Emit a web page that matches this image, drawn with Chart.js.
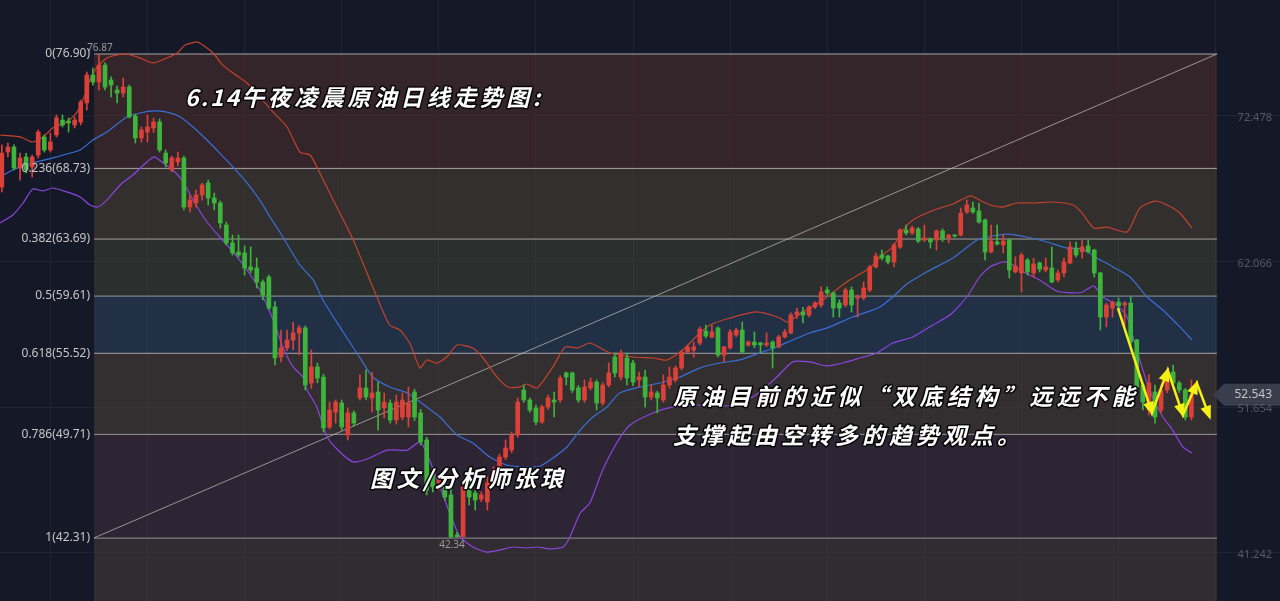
<!DOCTYPE html>
<html>
<head>
<meta charset="utf-8">
<script src="https://cdn.jsdelivr.net/npm/chart.js@4.4.0/dist/chart.umd.min.js"></script>
<style>
  html, body { margin: 0; padding: 0; background: #151927; overflow: hidden; }
  #wrap { width: 1280px; height: 601px; position: relative; }
</style>
</head>
<body>
<div id="wrap"><canvas id="oil"></canvas></div>
<script>
// daily candles (price units)
const opens = [67.39,69.89,70.25,68.75,69.54,68.82,69.68,70.97,70.04,71.11,72.18,72.11,71.83,72.04,73.40,75.40,74.90,76.11,75.04,74.33,
  74.11,74.54,72.47,70.90,71.32,71.61,72.04,69.82,68.61,69.18,69.47,65.96,66.25,66.82,67.68,66.61,66.25,64.68,63.39,62.75,
  62.68,61.68,61.60,60.60,60.96,58.82,55.24,55.89,56.46,56.96,57.32,53.38,54.53,53.81,50.24,51.31,51.95,49.67,51.24,52.31,
  53.03,52.31,52.74,51.60,51.95,50.74,50.95,50.95,52.74,51.24,49.31,46.95,46.24,45.95,45.38,42.52,42.40,46.45,45.52,45.09,
  44.88,46.24,47.16,48.09,48.59,49.67,52.88,52.17,51.60,50.59,51.67,52.17,52.17,54.10,54.10,53.03,52.17,53.03,53.45,51.95,
  53.24,55.24,53.81,55.17,54.81,53.60,53.81,52.38,52.67,52.17,53.24,53.60,54.45,55.60,55.74,56.24,57.10,56.67,57.32,55.38,
  55.89,56.81,57.17,56.10,56.31,56.24,56.10,56.31,55.96,56.67,56.96,58.24,58.46,58.24,58.82,58.96,60.03,59.82,59.10,58.96,
  60.03,59.45,59.46,60.03,61.68,62.53,62.46,62.03,63.10,64.32,64.11,64.39,63.60,63.68,63.60,64.25,63.75,63.96,63.96,65.61,
  65.89,65.68,65.04,62.75,63.46,63.25,63.60,61.32,61.25,62.18,61.25,61.96,61.46,61.60,60.75,61.25,61.96,63.03,62.75,63.18,
  62.89,61.25,58.10,58.74,59.17,58.96,59.10,56.46,53.24,51.45,52.74,51.45,52.88,54.17,53.38,52.88,50.95];
const highs = [70.40,70.54,70.40,69.82,69.80,69.68,71.47,71.11,71.25,72.54,72.54,72.33,72.40,73.61,75.61,75.90,76.87,76.26,75.26,74.61,
  75.18,74.68,72.60,71.68,72.54,72.33,72.26,70.04,69.60,69.89,69.60,66.82,67.18,67.68,67.89,66.96,66.40,64.89,63.96,63.96,
  63.18,63.11,62.32,60.75,61.10,59.20,57.17,57.17,57.74,57.50,57.46,55.74,54.80,54.00,52.02,52.17,52.17,51.60,51.40,53.96,
  54.31,54.17,53.45,52.67,52.17,52.52,52.67,53.10,52.95,51.50,49.50,47.31,46.81,46.45,46.09,42.70,46.45,47.16,45.70,45.60,
  46.66,47.40,48.30,49.31,49.88,52.31,53.24,52.30,51.80,51.80,52.52,52.74,53.90,54.17,54.17,53.20,53.60,53.74,53.60,53.40,
  54.81,55.53,55.74,55.53,55.00,54.17,54.31,53.24,52.80,53.96,54.53,54.60,55.74,56.10,56.31,57.39,57.53,57.53,57.40,56.00,
  57.20,57.30,57.74,56.40,57.03,56.30,56.96,56.40,56.80,57.20,58.40,58.74,58.80,58.90,59.20,60.25,60.25,59.90,59.32,60.17,
  60.25,59.70,60.60,61.80,62.68,62.89,62.53,63.39,64.40,64.68,64.60,64.50,64.68,63.75,64.32,64.40,64.00,64.00,65.89,66.46,
  66.32,66.25,65.10,64.68,64.68,63.96,63.70,62.40,62.68,62.30,62.30,62.03,62.30,63.11,61.46,62.32,63.46,63.46,63.60,63.60,
  62.96,61.30,59.10,59.25,59.46,59.20,59.53,56.50,53.40,53.96,53.24,53.24,54.31,54.67,53.50,53.00,53.60];
const lows = [67.04,69.54,68.61,67.89,68.40,68.11,69.47,69.89,69.89,70.97,71.68,71.32,71.61,71.83,72.90,74.68,74.33,74.33,73.83,73.40,
  73.83,72.33,70.54,70.61,70.61,71.30,69.89,68.82,68.47,68.90,65.75,65.61,65.96,66.46,66.11,65.75,64.46,63.25,62.53,62.40,
  61.10,61.25,60.17,59.32,58.60,54.67,54.89,55.70,55.74,55.40,52.88,53.00,53.40,49.88,50.10,50.52,50.02,49.31,50.30,52.17,
  52.20,51.31,50.02,50.88,50.52,50.45,50.74,50.24,50.70,48.95,45.38,45.59,45.73,45.00,42.34,42.36,42.38,44.66,44.30,44.90,
  44.30,46.00,46.90,47.90,48.40,49.50,52.00,51.30,50.40,50.50,51.50,50.95,52.00,53.24,52.70,52.00,52.00,52.88,51.45,51.80,
  53.10,53.81,53.60,53.24,53.20,53.10,51.67,52.17,51.24,52.02,53.00,53.45,54.31,55.50,55.24,56.10,56.60,56.60,55.24,54.89,
  55.80,56.70,55.50,56.00,55.90,55.53,56.00,54.45,55.90,56.60,56.90,58.00,57.67,58.10,58.70,58.80,59.70,58.10,58.10,58.82,
  58.46,58.10,59.32,59.90,61.60,62.18,61.89,61.68,63.00,63.96,64.00,63.40,63.50,63.03,62.89,63.50,63.40,63.80,63.90,65.50,
  65.50,64.80,62.18,62.68,63.25,62.68,60.89,61.25,59.89,61.10,60.96,61.32,61.32,60.55,60.60,60.96,61.90,62.40,62.30,62.68,
  60.96,57.17,57.39,58.10,58.60,57.39,56.10,52.88,51.45,51.10,50.52,51.24,52.70,53.10,52.70,50.74,50.74];
const closes = [69.82,70.25,68.75,69.47,68.61,69.54,71.32,70.04,70.61,72.33,71.83,71.97,72.18,73.47,75.40,74.90,76.11,74.54,74.68,74.11,
  74.54,72.40,70.90,71.47,71.68,72.04,70.04,69.11,69.47,69.47,65.96,66.46,66.82,67.54,66.61,66.25,64.82,63.39,62.68,62.53,
  61.60,61.46,60.60,59.67,58.74,55.17,55.89,56.46,56.96,57.32,53.24,54.53,53.74,50.17,51.45,52.02,50.24,51.24,50.52,53.03,
  52.38,52.67,51.45,52.02,50.74,52.02,52.17,51.95,50.95,49.17,45.73,45.95,46.45,45.23,42.38,42.40,45.95,45.23,45.02,45.38,
  46.24,47.16,48.09,48.74,49.67,52.02,52.17,51.45,50.59,51.67,52.31,52.02,53.74,53.81,52.88,52.17,53.10,53.45,51.95,53.24,
  54.10,54.10,55.53,53.74,53.45,53.81,52.38,52.74,52.31,53.24,53.81,54.45,55.60,55.96,55.96,57.24,56.74,57.03,55.38,55.96,
  57.03,57.17,55.60,56.31,56.10,56.10,56.24,55.89,56.67,57.03,58.24,58.46,58.24,58.82,59.10,59.89,59.82,58.74,58.74,60.03,
  58.96,59.53,60.17,61.68,62.46,62.32,62.03,63.25,64.32,64.11,64.46,63.53,63.75,63.46,64.25,63.68,63.96,63.89,65.53,66.11,
  65.61,64.89,62.75,63.53,63.32,63.53,61.46,61.75,62.53,61.32,61.89,61.53,61.68,60.60,61.25,62.03,63.11,62.53,63.11,62.75,
  61.25,58.10,58.96,59.17,58.89,59.10,56.31,53.10,52.02,53.38,50.95,52.88,53.96,53.38,52.88,50.95,52.54];

// Bollinger bands, [candle index, price]
const upperBand = [[-0.3,71.11],[3.0,70.97],[5.1,70.61],[6.8,70.97],[8.4,71.61],[10.7,72.04],[12.4,72.75],[13.7,73.97],[14.5,75.04],[15.7,75.97],
  [17.3,76.61],[19.0,76.83],[20.6,76.90],[22.8,76.61],[24.9,76.26],[27.2,76.61],[28.9,76.97],[30.2,77.54],[32.2,77.76],[33.1,77.54],
  [34.8,76.97],[36.4,76.11],[38.1,75.54],[40.4,74.83],[42.5,73.83],[44.7,72.75],[47.0,71.68],[49.1,69.89],[50.8,69.68],[52.4,68.39],
  [54.6,66.46],[57.9,63.61],[61.8,59.53],[63.9,57.53],[65.6,57.17],[67.2,56.24],[68.9,54.45],[70.0,55.03],[71.7,54.81],[73.3,55.24],
  [75.0,56.10],[77.6,55.89],[79.3,55.17],[81.6,53.81],[83.4,53.10],[85.4,53.10],[86.5,53.31],[88.2,53.03],[90.8,54.53],[92.8,55.96],
  [94.9,55.89],[96.9,56.24],[100.2,55.53],[104.0,55.24],[107.3,55.17],[109.6,55.03],[112.2,55.74],[115.0,56.96],[116.7,57.53],[120.0,58.03],
  [124.4,58.46],[128.2,58.03],[129.4,57.74],[132.0,58.46],[135.3,59.32],[139.2,60.60],[143.0,61.60],[144.7,62.39],[146.8,63.11],[148.5,64.32],
  [150.1,65.03],[152.4,65.53],[154.6,65.89],[156.7,66.18],[159.0,66.68],[159.8,66.75],[161.1,66.46],[162.8,66.11],[164.9,65.96],[167.2,66.25],
  [169.9,66.25],[173.0,66.32],[176.5,66.11],[178.0,65.53],[179.9,64.46],[182.1,64.53],[185.4,64.18],[187.5,65.89],[190.0,66.39],[192.0,66.11],
  [194.1,65.53],[196.1,64.46]];
const midBand = [[-0.3,68.11],[1.8,68.61],[5.1,69.11],[8.4,69.47],[10.7,69.75],[12.9,70.04],[15.0,70.75],[17.3,71.32],[20.6,72.40],[22.8,72.68],
  [24.9,72.83],[27.2,72.75],[29.4,72.40],[31.5,71.68],[33.8,70.75],[35.9,69.82],[38.1,68.82],[40.4,67.68],[42.5,66.46],[44.2,65.25],
  [45.8,64.18],[49.1,61.82],[51.3,60.75],[52.9,59.32],[55.7,57.39],[58.5,55.53],[61.1,53.81],[63.9,53.10],[66.8,52.67],[70.0,51.67],
  [72.2,50.95],[75.0,49.67],[77.6,49.09],[80.4,48.09],[83.2,47.52],[86.5,47.38],[88.7,47.45],[90.8,48.02],[93.1,48.81],[95.3,50.02],
  [97.4,50.95],[99.7,51.67],[101.8,52.67],[105.1,53.10],[108.4,53.38],[111.7,53.81],[115.0,54.45],[118.3,54.81],[121.6,55.03],[124.9,55.53],
  [127.7,55.96],[130.3,56.46],[133.1,56.96],[136.0,57.32],[140.2,58.10],[144.7,58.82],[146.8,59.53],[149.1,60.46],[152.4,61.32],[156.7,62.32],
  [160.7,63.61],[163.3,63.89],[165.6,64.03],[168.9,63.82],[172.2,63.46],[175.5,63.03],[178.1,62.96],[180.4,62.32],[183.1,61.68],[185.9,60.96],
  [188.7,59.53],[191.3,58.60],[194.1,57.39],[196.1,56.46]];
const lowerBand = [[-0.3,64.82],[1.8,65.39],[3.5,66.25],[5.1,67.25],[6.8,67.11],[8.4,67.32],[10.7,67.04],[12.9,66.68],[14.5,66.11],[15.8,65.96],
  [17.3,66.46],[19.5,67.54],[21.6,68.25],[23.9,69.18],[25.1,69.54],[26.6,69.11],[28.2,68.61],[29.9,67.75],[31.5,66.46],[33.8,64.89],
  [35.9,63.82],[38.1,62.75],[40.4,61.46],[42.5,60.03],[44.7,57.89],[46.3,55.96],[48.0,54.53],[49.6,53.81],[50.3,52.88],[51.9,51.67],
  [53.6,49.52],[55.7,48.45],[57.9,47.74],[60.2,47.95],[63.5,48.59],[66.8,48.59],[68.9,49.17],[70.0,48.38],[72.2,45.95],[73.8,44.09],
  [75.5,42.38],[77.6,41.66],[79.9,41.30],[82.1,41.45],[84.2,41.66],[86.5,41.59],[88.2,41.66],[90.3,41.52],[92.5,41.66],[93.6,42.38],
  [95.3,44.09],[96.9,44.81],[99.0,47.16],[101.3,49.09],[103.5,50.38],[107.3,51.24],[110.6,51.67],[114.5,51.81],[117.8,51.74],[120.5,51.81],
  [122.8,52.17],[124.9,52.74],[127.7,53.81],[130.3,54.89],[133.1,54.89],[136.0,54.60],[139.2,54.89],[141.4,55.17],[144.2,55.53],[146.8,56.24],
  [150.1,56.67],[153.4,57.53],[156.2,58.24],[159.0,59.53],[161.1,60.96],[162.8,61.68],[164.9,62.03],[166.1,61.96],[167.7,61.46],[171.0,60.75],
  [173.8,59.96],[176.5,59.82],[178.1,59.89],[179.9,60.32],[181.4,59.53],[183.7,58.96],[185.4,58.10],[186.4,56.67],[188.0,54.31],[189.6,52.38],
  [191.3,50.95],[192.9,50.02],[194.6,48.81],[196.1,48.38]];

// fibonacci retracement tool
const fibRatios = [0, 0.236, 0.382, 0.5, 0.618, 0.786, 1];
const fibPrices = [76.90, 68.73, 63.69, 59.61, 55.52, 49.71, 42.31];
const fibAnchors = [15.2, 200.2]; // candle index of both ends

const axisTicks = [72.478, 62.066, 51.654, 41.242];
const gridIdx = [8, 24, 40, 56, 72, 88, 104, 120, 136, 152, 168, 184, 200];
const lastPrice = 52.543;

// hand drawn yellow zigzag, [candle index, price]
const arrowPath = [[183.9,58.74],[189.5,51.24],[192.1,54.31],[194.6,51.10],[196.9,53.38],[199.0,50.95]];

const UP = '#dc4139', DOWN = '#3fb43c';
const zoneColors = ['rgba(73,45,47,0.6)', 'rgba(71,62,54,0.6)', 'rgba(59,63,52,0.6)', 'rgba(43,63,91,0.6)',
  'rgba(71,62,56,0.6)', 'rgba(61,45,61,0.6)', 'rgba(69,57,57,0.6)'];

const candleColors = closes.map((c, i) => (c >= opens[i] ? UP : DOWN));
const toXY = arr => arr.map(p => ({ x: p[0], y: p[1] }));

const datasets = [];
fibPrices.forEach((p, k) => {
  datasets.push({
    type: 'line',
    data: [{ x: fibAnchors[0], y: p }, { x: fibAnchors[1], y: p }],
    borderColor: 'rgba(190,190,190,0.85)',
    borderWidth: 1.2,
    pointRadius: 0,
    fill: k < fibPrices.length - 1 ? '+1' : 'start',
    backgroundColor: zoneColors[k],
    order: 10
  });
});
datasets.push({
  type: 'line',
  data: [{ x: fibAnchors[0], y: fibPrices[6] }, { x: fibAnchors[1], y: fibPrices[0] }],
  borderColor: 'rgba(185,185,185,0.75)', borderWidth: 1, pointRadius: 0, fill: false, order: 9
});
[[upperBand, '#c4432d'], [midBand, '#3b6fd6'], [lowerBand, '#8c45de']].forEach(([band, col]) => {
  datasets.push({
    type: 'line', data: toXY(band), borderColor: col, borderWidth: 1.2,
    pointRadius: 0, tension: 0.2, fill: false, order: 5
  });
});
datasets.push({
  type: 'bar',
  data: closes.map((_, i) => ({ x: i, y: [lows[i], highs[i]] })),
  backgroundColor: candleColors, barThickness: 1, grouped: false, order: 3
});
datasets.push({
  type: 'bar',
  data: closes.map((c, i) => ({ x: i, y: [opens[i], c] })),
  backgroundColor: candleColors, barThickness: 4, minBarLength: 1, grouped: false, order: 2
});
datasets.push({
  type: 'line', data: toXY(arrowPath), borderColor: '#f4ef14', borderWidth: 2.5,
  pointRadius: 0, tension: 0, fill: false, order: 0
});

function spacedText(ctx, text, x, y, pitch) {
  let cx = x;
  for (const ch of text) {
    ctx.strokeText(ch, cx, y);
    ctx.fillText(ch, cx, y);
    cx += ch.charCodeAt(0) > 0x2000 ? pitch : ctx.measureText(ch).width + 2;
  }
}

const overlay = {
  id: 'overlay',
  afterDraw(chart) {
    const ctx = chart.ctx;
    const xs = chart.scales.x, ys = chart.scales.y;
    ctx.save();

    // arrow heads on the zigzag
    ctx.fillStyle = '#f4ef14';
    for (let k = 1; k < arrowPath.length; k++) {
      const x0 = xs.getPixelForValue(arrowPath[k - 1][0]), y0 = ys.getPixelForValue(arrowPath[k - 1][1]);
      const x1 = xs.getPixelForValue(arrowPath[k][0]), y1 = ys.getPixelForValue(arrowPath[k][1]);
      const a = Math.atan2(y1 - y0, x1 - x0);
      ctx.beginPath();
      ctx.moveTo(x1 + 3 * Math.cos(a), y1 + 3 * Math.sin(a));
      ctx.lineTo(x1 - 11 * Math.cos(a) + 5.5 * Math.sin(a), y1 - 11 * Math.sin(a) - 5.5 * Math.cos(a));
      ctx.lineTo(x1 - 11 * Math.cos(a) - 5.5 * Math.sin(a), y1 - 11 * Math.sin(a) + 5.5 * Math.cos(a));
      ctx.closePath();
      ctx.fill();
    }

    // fib level labels
    ctx.font = '12px "Noto Sans"';
    ctx.fillStyle = '#c6c6c6';
    ctx.textAlign = 'right';
    ctx.textBaseline = 'middle';
    const fx = xs.getPixelForValue(fibAnchors[0]) - 4;
    fibPrices.forEach((p, k) => {
      ctx.fillText(fibRatios[k] + '(' + p.toFixed(2) + ')', fx, ys.getPixelForValue(p));
    });

    // high / low marks
    ctx.font = '10px "Noto Sans"';
    ctx.fillStyle = '#9a9a9a';
    ctx.textAlign = 'center';
    const hi = Math.max(...highs), lo = Math.min(...lows);
    const hiI = highs.indexOf(hi), loI = lows.indexOf(lo);
    ctx.fillText(hi.toFixed(2), xs.getPixelForValue(hiI) + 1, ys.getPixelForValue(hi) - 6);
    ctx.fillText(lo.toFixed(2), xs.getPixelForValue(loI) + 1, ys.getPixelForValue(lo) + 8);

    // last price tag
    const ty = ys.getPixelForValue(lastPrice);
    ctx.fillStyle = '#3a3e4c';
    ctx.beginPath();
    ctx.moveTo(1213, ty);
    ctx.lineTo(1224, ty - 11);
    ctx.lineTo(1280, ty - 11);
    ctx.lineTo(1280, ty + 11);
    ctx.lineTo(1224, ty + 11);
    ctx.closePath();
    ctx.fill();
    ctx.textAlign = 'right';
    ctx.font = '12px "Noto Sans"';
    ctx.fillStyle = '#c4c4c4';
    ctx.fillText(lastPrice.toFixed(3), 1272, ty);

    // right axis labels
    ctx.font = '11px "Noto Sans"';
    ctx.fillStyle = '#535969';
    axisTicks.forEach(v => ctx.fillText(v.toFixed(3), 1272, ys.getPixelForValue(v) + 2));

    // commentary text
    ctx.font = 'italic bold 23px "Noto Sans CJK SC"';
    ctx.textAlign = 'left';
    ctx.fillStyle = '#ffffff';
    ctx.strokeStyle = 'rgba(0,0,0,0.85)';
    ctx.lineWidth = 3;
    ctx.lineJoin = 'round';
    spacedText(ctx, '6.14午夜凌晨原油日线走势图:', 185, 97, 26.5);
    spacedText(ctx, '图文/分析师张琅', 370, 478, 26.5);
    spacedText(ctx, '原油目前的近似“双底结构”远远不能', 673, 396, 27.4);
    spacedText(ctx, '支撑起由空转多的趋势观点。', 673, 435, 27);
    ctx.restore();
  }
};

new Chart(document.getElementById('oil'), {
  type: 'bar',
  data: { datasets },
  options: {
    responsive: true,
    maintainAspectRatio: false,
    animation: false,
    layout: { padding: 0 },
    plugins: { legend: { display: false }, tooltip: { enabled: false } },
    scales: {
      x: {
        type: 'linear', min: -0.3, max: 210.6, offset: false,
        grid: { color: 'rgba(255,255,255,0.05)', drawTicks: false, offset: false },
        border: { display: false },
        ticks: { display: false },
        afterBuildTicks: s => { s.ticks = gridIdx.map(v => ({ value: v })); }
      },
      y: {
        type: 'linear', position: 'right', min: 37.80, max: 80.76,
        grid: { color: 'rgba(255,255,255,0.05)', drawTicks: false },
        border: { display: false },
        ticks: { display: false },
        afterBuildTicks: s => { s.ticks = axisTicks.map(v => ({ value: v })); }
      }
    }
  },
  plugins: [overlay]
});
</script>
</body>
</html>
